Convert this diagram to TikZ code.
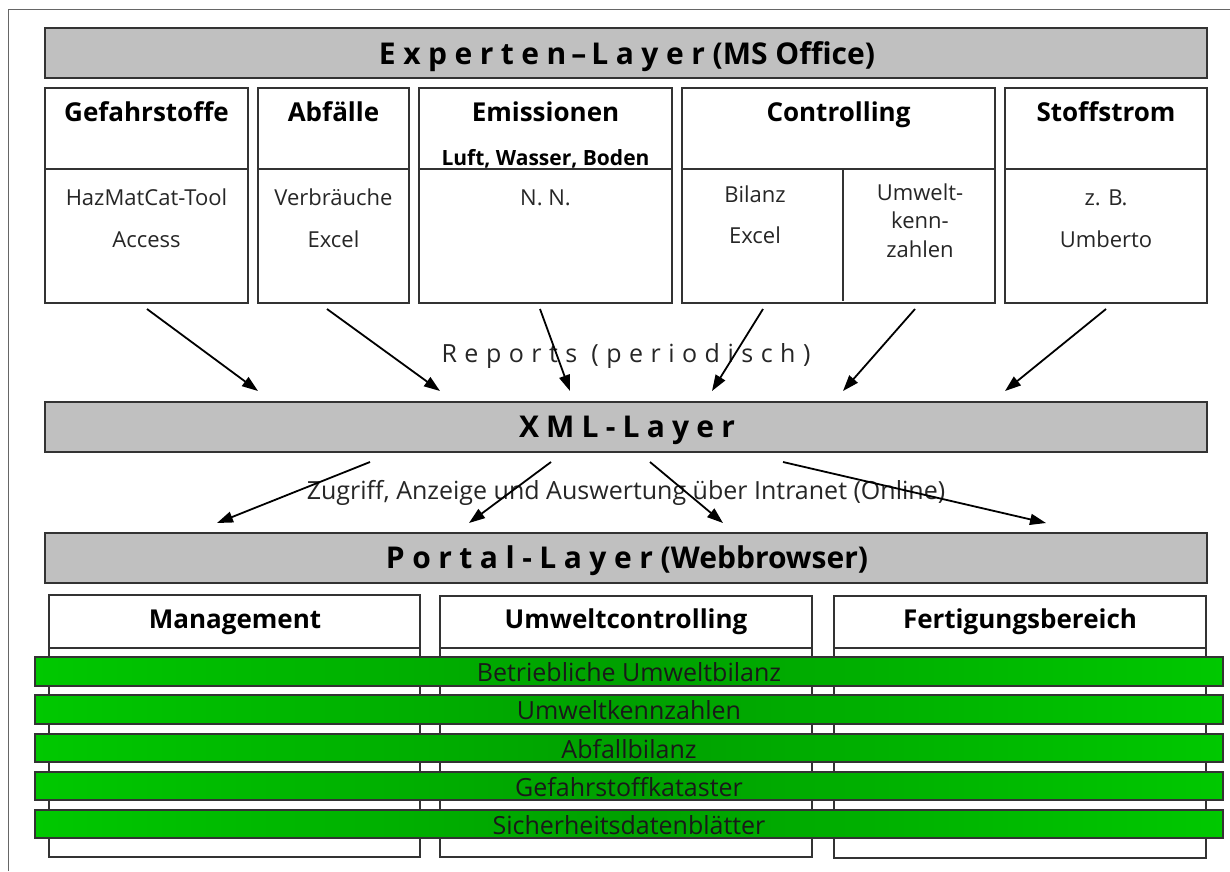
\documentclass[tikz,border=0pt]{standalone}
\usepackage{fontspec}
\setmainfont{Open Sans}
\usetikzlibrary{arrows.meta}
\definecolor{barfill}{HTML}{C0C0C0}
\definecolor{gbright}{HTML}{00C800}
\definecolor{gdark}{HTML}{00A000}
\definecolor{edge}{HTML}{333333}
\begin{document}
\begin{tikzpicture}[x=1pt,y=-1pt,
  layerbar/.style={draw=edge, line width=1.6pt, fill=barfill},
  boxst/.style={draw=edge, line width=1.3pt, fill=white},
  divline/.style={draw=edge, line width=1.3pt},
  greenbar/.style={draw=edge, line width=1.3pt, left color=gbright, right color=gbright, middle color=gdark},
  txt/.style={inner sep=0pt, anchor=base},
  ltitle/.style={txt, font=\bfseries\fontsize{30}{36}\selectfont},
  hdr/.style={txt, font=\bfseries\fontsize{26}{31}\selectfont},
  subhdr/.style={txt, font=\bfseries\fontsize{21}{25}\selectfont},
  body/.style={txt, font=\fontsize{22}{26}\selectfont, text=black!85},
  note/.style={txt, font=\fontsize{25}{30}\selectfont, text=black!85},
  gtext/.style={txt, font=\fontsize{25}{30}\selectfont, text=black!90},
  arr/.style={-{Triangle[length=16pt,width=11pt]}, line width=1.8pt}
]
\useasboundingbox (0,0) rectangle (1230,871);
\fill[white] (0,0) rectangle (1230,871);
% outer frame
\draw[line width=1pt, draw=black!60] (8,871) -- (8,9) -- (1230,9);

% ---------- Experten layer ----------
\draw[layerbar] (45,28) rectangle (1207,78);
\node[ltitle] (texp) at (627,64) {{\addfontfeature{LetterSpace=25}Experten\,–\,Layer} (MS Office)};

\draw[boxst] (45,88) rectangle (248,303);
\draw[divline] (45,169) -- (248,169);
\draw[boxst] (258,88) rectangle (409,303);
\draw[divline] (258,169) -- (409,169);
\draw[boxst] (419,88) rectangle (672,303);
\draw[divline] (419,169) -- (672,169);
\draw[boxst] (682,88) rectangle (995,303);
\draw[divline] (682,169) -- (995,169);
\draw[divline] (843,169) -- (843,301);
\draw[boxst] (1005,88) rectangle (1207,303);
\draw[divline] (1005,169) -- (1207,169);

\node[hdr] (h1) at (146.5,121) {Gefahrstoffe};
\node[body] (t1a) at (146.5,205) {HazMatCat-Tool};
\node[body] (t1b) at (146.5,247) {Access};
\node[hdr] (h2) at (333.5,121) {Abfälle};
\node[body] (t2a) at (333.5,205) {Verbräuche};
\node[body] (t2b) at (333.5,247) {Excel};
\node[hdr] (h3) at (545.5,121) {Emissionen};
\node[subhdr] (h3b) at (545.5,165) {Luft, Wasser, Boden};
\node[body] (t3a) at (545.5,205) {N. N.};
\node[hdr] (h4) at (838.5,121) {Controlling};
\node[body] (t4a) at (755,202) {Bilanz};
\node[body] (t4b) at (755,243) {Excel};
\node[body] (t4c) at (920,200) {Umwelt-};
\node[body] (t4d) at (920,228) {kenn-};
\node[body] (t4e) at (920,257) {zahlen};
\node[hdr] (h5) at (1106,121) {Stoffstrom};
\node[body] (t5a) at (1106,205) {z. B.};
\node[body] (t5b) at (1106,247) {Umberto};

% ---------- arrows to XML layer ----------
\coordinate (a1s) at (147,309); \coordinate (a1e) at (258,391);
\coordinate (a2s) at (327,309); \coordinate (a2e) at (440,391);
\coordinate (a3s) at (540,309); \coordinate (a3e) at (570,391);
\coordinate (a4s) at (763,309); \coordinate (a4e) at (712,391);
\coordinate (a5s) at (915,309); \coordinate (a5e) at (843,391);
\coordinate (a6s) at (1106,309); \coordinate (a6e) at (1005,391);
\node[note] (reports) at (626,362) {\addfontfeature{LetterSpace=30}Reports (periodisch)};
\foreach \i in {1,...,6} { \draw[arr] (a\i s) -- (a\i e); }

% ---------- XML layer ----------
\draw[layerbar] (45,402) rectangle (1207,452);
\node[ltitle] (txml) at (627,437) {\addfontfeature{LetterSpace=24}XML-Layer};

% ---------- arrows to Portal layer ----------
\coordinate (b1s) at (370,462); \coordinate (b1e) at (217,523);
\coordinate (b2s) at (551,462); \coordinate (b2e) at (469,523);
\coordinate (b3s) at (650,462); \coordinate (b3e) at (723,523);
\coordinate (b4s) at (783,462); \coordinate (b4e) at (1046,523);
\node[note] (zugriff) at (626,499) {Zugriff, Anzeige und Auswertung über Intranet (Online)};
\foreach \i in {1,...,4} { \draw[arr] (b\i s) -- (b\i e); }

% ---------- Portal layer ----------
\draw[layerbar] (45,533) rectangle (1207,583);
\node[ltitle] (tportal) at (627,568) {{\addfontfeature{LetterSpace=25}Portal-Layer} (Webbrowser)};

\draw[boxst] (49,595) rectangle (420,857);
\draw[divline] (49,648) -- (420,648);
\draw[boxst] (440,596) rectangle (812,857);
\draw[divline] (440,648) -- (812,648);
\draw[boxst] (834,596) rectangle (1206,858);
\draw[divline] (834,648) -- (1206,648);
\node[hdr] (m1) at (235,628) {Management};
\node[hdr] (m2) at (626,628) {Umweltcontrolling};
\node[hdr] (m3) at (1020,628) {Fertigungsbereich};

% ---------- green bars ----------
\draw[greenbar] (35,657) rectangle (1223,686);
\draw[greenbar] (35,695) rectangle (1223,724);
\draw[greenbar] (35,734) rectangle (1223,762);
\draw[greenbar] (35,772) rectangle (1223,800);
\draw[greenbar] (35,810) rectangle (1223,838);
\node[gtext] (g1) at (629,681) {Betriebliche Umweltbilanz};
\node[gtext] (g2) at (629,719) {Umweltkennzahlen};
\node[gtext] (g3) at (629,758) {Abfallbilanz};
\node[gtext] (g4) at (629,796) {Gefahrstoffkataster};
\node[gtext] (g5) at (629,834) {Sicherheitsdatenblätter};
\end{tikzpicture}
\end{document}
